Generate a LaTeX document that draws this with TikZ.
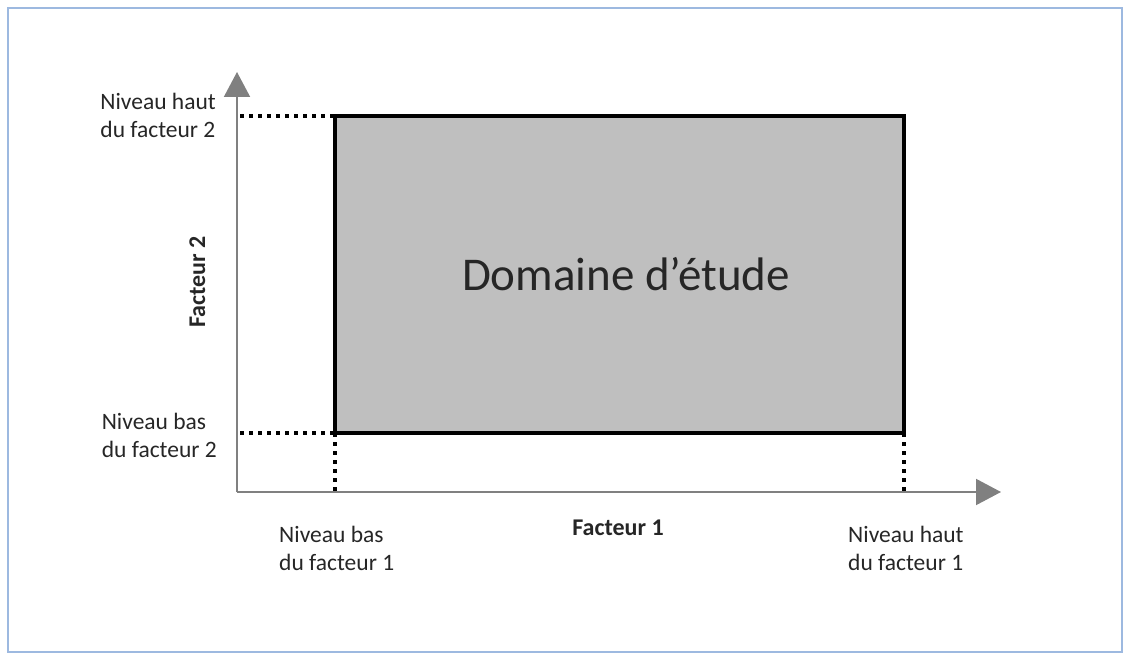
\documentclass[tikz,border=0pt]{standalone}
\usepackage{fontspec}
\setmainfont{Carlito}
\usetikzlibrary{arrows.meta}
\definecolor{frameblue}{HTML}{9DB9E0}
\definecolor{axisgray}{HTML}{808080}
\definecolor{domfill}{HTML}{BFBFBF}
\definecolor{txt}{HTML}{262626}
\tikzset{
  axis/.style={draw=axisgray, line width=2pt, -{Triangle[width=26pt,length=25pt]}},
  dotline/.style={draw=black, line width=4pt, dash pattern=on 4pt off 5pt},
  lbl/.style={font=\fontsize{23.5}{28}\selectfont, text=txt, inner sep=0pt},
  axlbl/.style={font=\fontsize{24}{28}\selectfont\bfseries, text=txt, inner sep=0pt},
}
\begin{document}
\begin{tikzpicture}[x=1pt,y=-1pt]
\useasboundingbox (0,0) rectangle (1130,655);
\draw[frameblue, line width=2.5pt] (8,8) rectangle (1122,652);
% domain
\node[draw=black, line width=3.5pt, fill=domfill, minimum width=569pt, minimum height=317pt, inner sep=0pt, outer sep=0pt, anchor=north west] (dom) at (335,116) {};
\node[font=\fontsize{47}{52}\selectfont, text=txt, inner sep=0pt, anchor=base] (domlbl) at (626,290) {Domaine d’étude};
% axes
\coordinate (O) at (237,492);
\coordinate (ytip) at (237,72);
\coordinate (xtip) at (1001,492);
\draw[axis] (O) -- (ytip);
\draw[axis] (O) -- (xtip);
% dotted guides
\coordinate (yh) at (240,116);
\coordinate (yl) at (240,433);
\coordinate (xl) at (335,492);
\coordinate (xh) at (904,492);
\draw[dotline] (yh) -- (dom.north west);
\draw[dotline] (yl) -- (dom.south west);
\draw[dotline] (dom.south west) -- (xl);
\draw[dotline] (dom.south east) -- (xh);
% labels
\node[lbl, align=left, anchor=base east] (nh2) at (216,138) {Niveau haut\\du facteur 2};
\node[lbl, align=left, anchor=base east] (nb2) at (217,457) {Niveau bas\\du facteur 2};
\node[lbl, align=left, anchor=base west] (nb1) at (279,570) {Niveau bas\\du facteur 1};
\node[lbl, align=left, anchor=base west] (nh1) at (848,570) {Niveau haut\\du facteur 1};
\node[axlbl, rotate=90, anchor=base] (f2) at (205,282) {Facteur 2};
\node[axlbl, anchor=base] (f1) at (618,535) {Facteur 1};
\end{tikzpicture}
\end{document}
